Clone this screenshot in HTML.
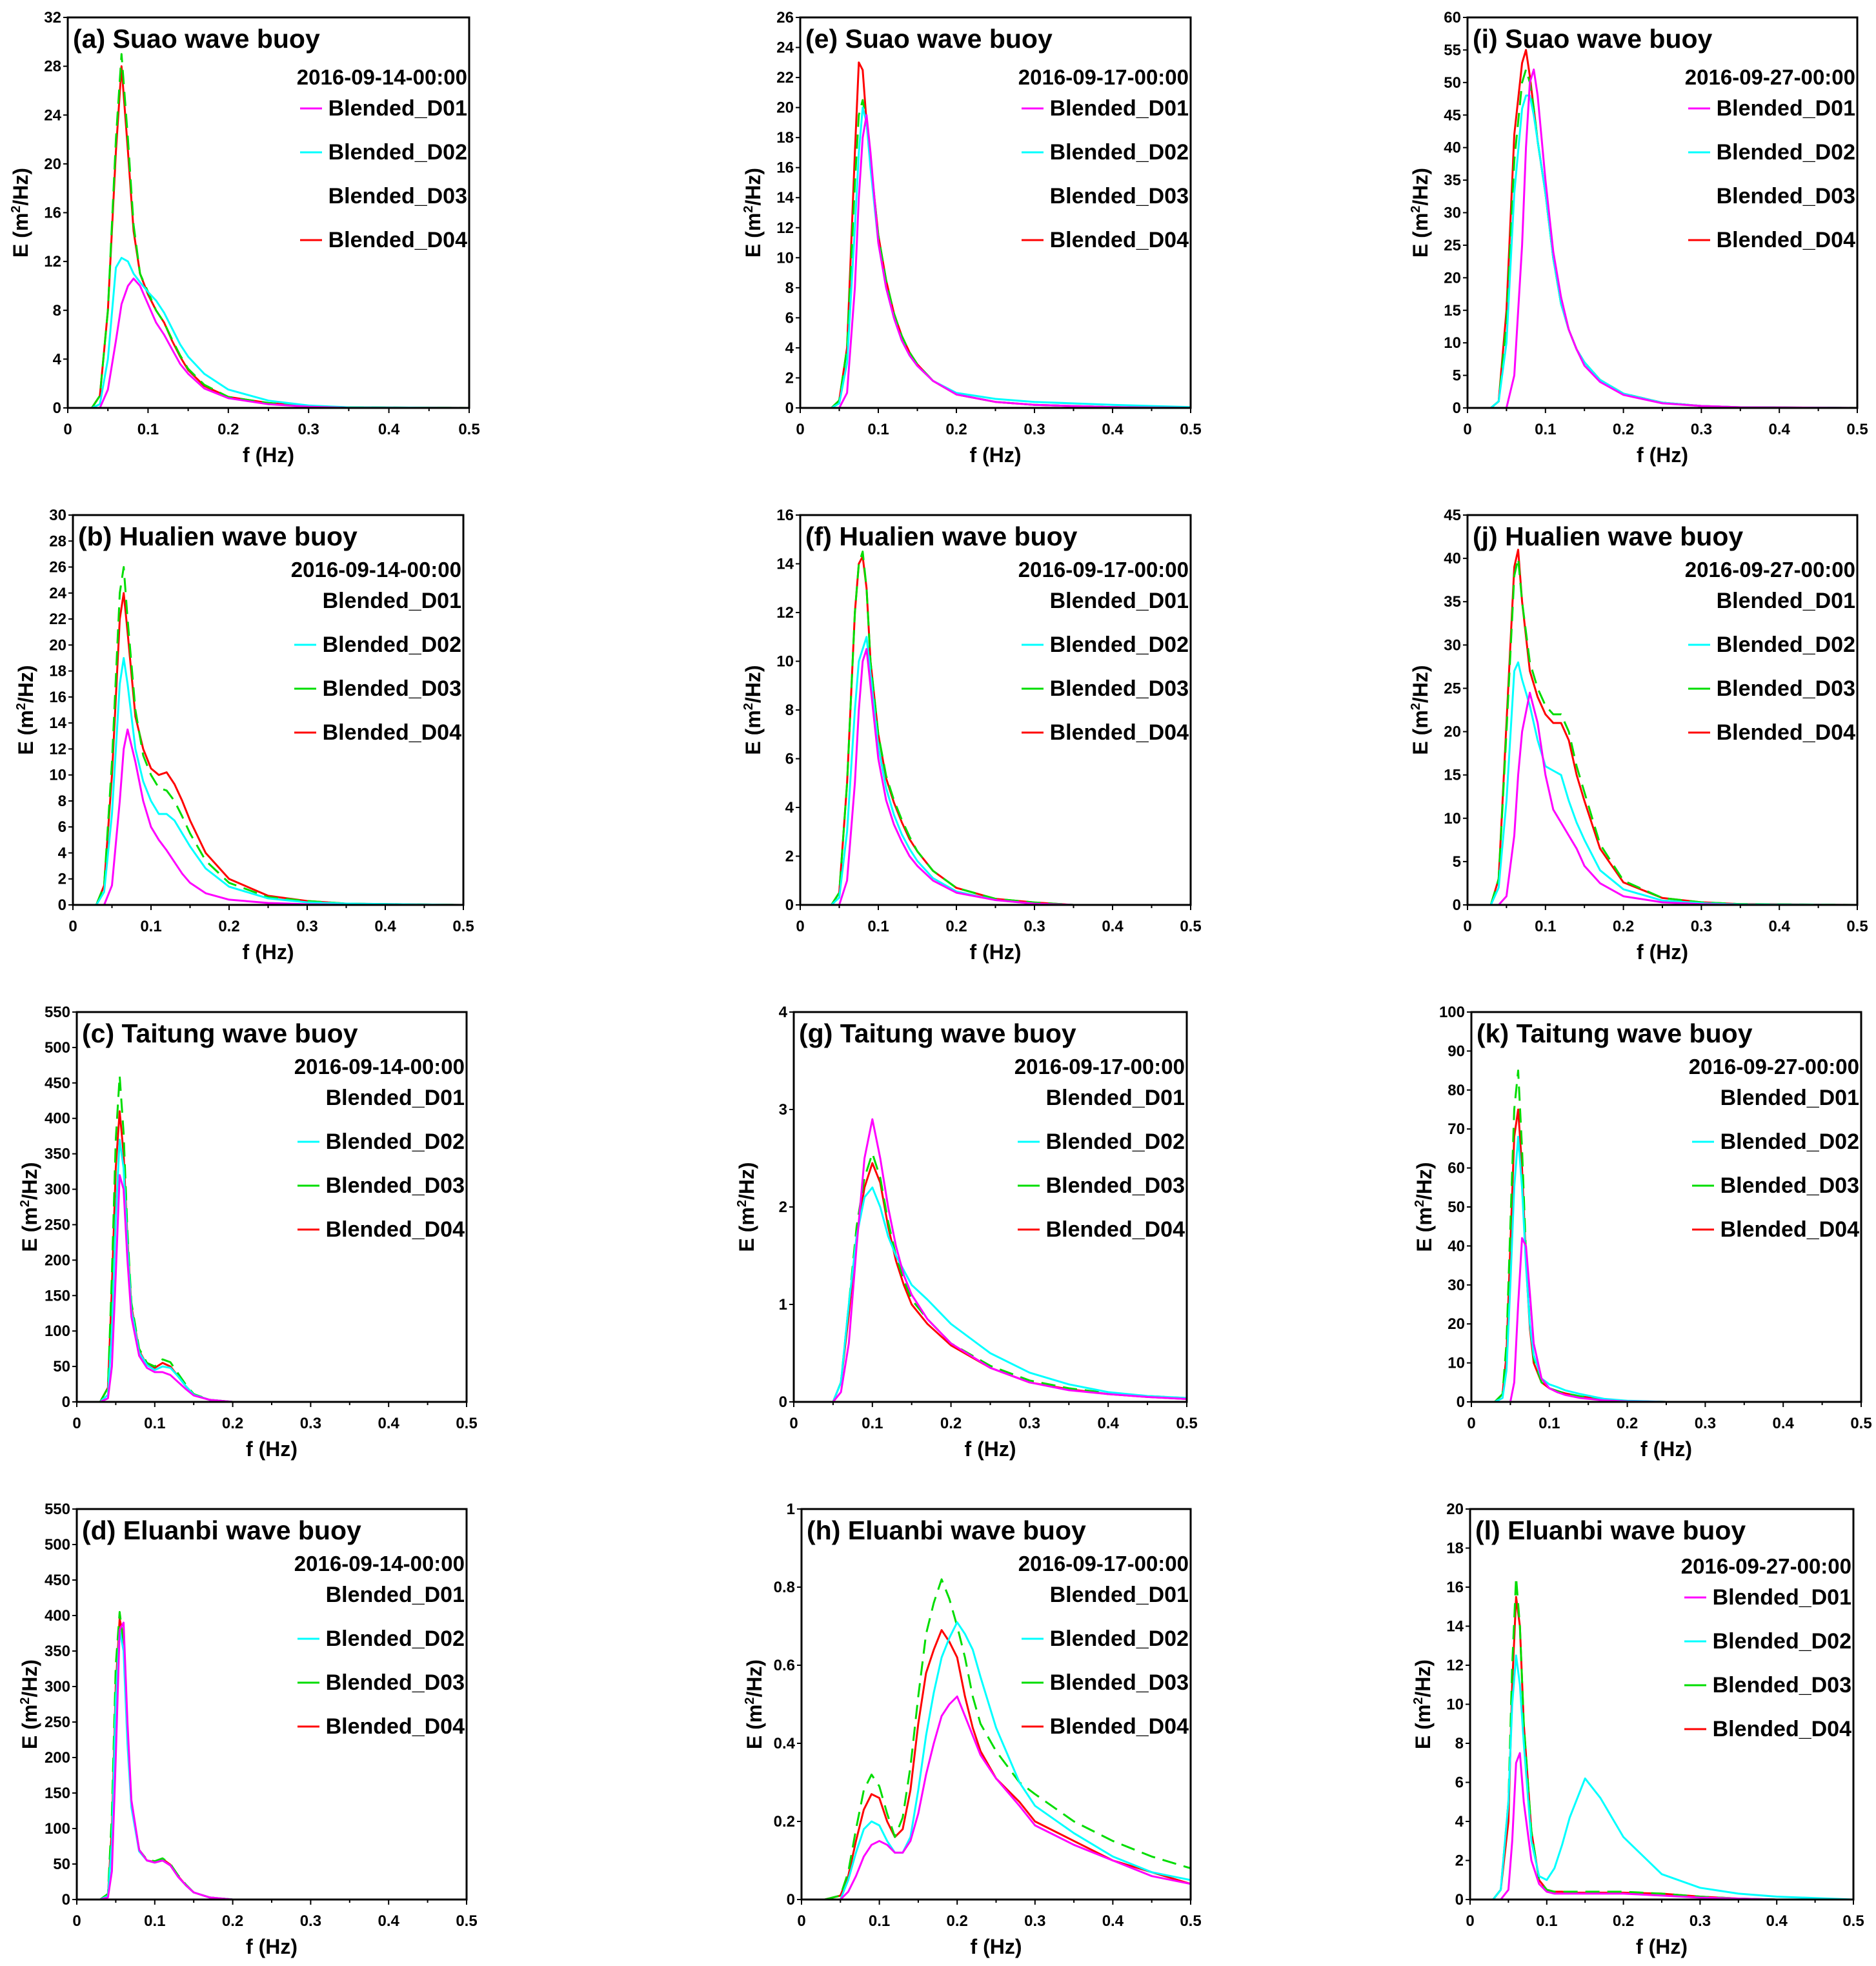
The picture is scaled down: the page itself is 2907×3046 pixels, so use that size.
<!DOCTYPE html>
<html><head><meta charset="utf-8">
<style>
html,body{margin:0;padding:0;background:#fff;}
svg{display:block;font-family:"Liberation Sans",Arial,sans-serif;font-weight:bold;}
</style></head>
<body>
<svg id="fig" width="2907" height="3046" viewBox="0 0 2907 3046" xmlns="http://www.w3.org/2000/svg"></svg>
<script>
// ---- data (per panel) ----
const panelIds = ['a','b','c','d','e','f','g','h','i','j','k','l'];
const titles = ['(a) Suao wave buoy','(b) Hualien wave buoy','(c) Taitung wave buoy','(d) Eluanbi wave buoy','(e) Suao wave buoy','(f) Hualien wave buoy','(g) Taitung wave buoy','(h) Eluanbi wave buoy','(i) Suao wave buoy','(j) Hualien wave buoy','(k) Taitung wave buoy','(l) Eluanbi wave buoy'];
const dates = ['2016-09-14-00:00','2016-09-14-00:00','2016-09-14-00:00','2016-09-14-00:00','2016-09-17-00:00','2016-09-17-00:00','2016-09-17-00:00','2016-09-17-00:00','2016-09-27-00:00','2016-09-27-00:00','2016-09-27-00:00','2016-09-27-00:00'];
const yMaxes = [32,30,550,550,26,16,4,1,60,45,100,20];
const yStepsTick = [4,2,50,50,2,2,1,0.2,5,5,10,2];
const seriesNames = ['Blended_D01','Blended_D02','Blended_D03','Blended_D04'];
const xTicks = [0,0.1,0.2,0.3,0.4,0.5];

const freqA = [0.03,0.04,0.05,0.06,0.067,0.075,0.082,0.09,0.1,0.11,0.12,0.13,0.14,0.15,0.17,0.2,0.25,0.3,0.35,0.5];
const a_D01 = [0,0,1.5,5.5,8.5,10,10.6,10,8.5,7,6,4.8,3.6,2.8,1.6,0.8,0.3,0.1,0,0];
const a_D02 = [0,0.3,4,11.5,12.3,12,11,10.3,9.5,8.8,7.8,6.5,5.2,4.2,2.8,1.5,0.6,0.2,0.05,0];
const a_D03 = [0,1,8,22,29,22,15,11,9.5,8,7,5.6,4.3,3.2,1.9,0.9,0.4,0.15,0.05,0];
const a_D04 = [0,1,8,21,28,21,14.5,11,9.3,8,7,5.5,4.2,3.1,1.8,0.9,0.4,0.15,0.05,0];

const freqB = [0.03,0.04,0.05,0.06,0.065,0.07,0.08,0.09,0.1,0.11,0.12,0.13,0.14,0.15,0.17,0.2,0.25,0.3,0.35,0.5];
const b_D01 = [0,0,1.5,8,12,13.5,11,8,6,5,4.2,3.3,2.4,1.7,0.9,0.4,0.15,0.05,0,0];
const b_D02 = [0,1,7,17,19,17,12,9.5,8,7,7,6.5,5.5,4.5,2.8,1.4,0.5,0.2,0.1,0];
const b_D03 = [0,1.5,11,24,26,22,15,11.5,10,9,8.8,8,6.8,5.5,3.4,1.7,0.6,0.3,0.1,0];
const b_D04 = [0,1.5,10,22,24,21,14.5,12,10.5,10,10.2,9.3,8,6.5,4,2,0.7,0.3,0.1,0];

const freqC = [0.03,0.04,0.045,0.05,0.055,0.06,0.065,0.07,0.08,0.09,0.1,0.11,0.12,0.13,0.14,0.15,0.17,0.2,0.25,0.5];
const c_D01 = [0,5,50,180,320,300,200,120,65,48,42,42,38,28,18,9,3,0,0,0];
const c_D02 = [0,10,100,260,370,330,220,130,70,52,45,50,48,36,22,10,3,0,0,0];
const c_D03 = [0,20,180,370,460,380,240,140,75,55,50,60,56,40,24,11,3,0,0,0];
const c_D04 = [0,20,160,330,410,350,230,135,72,52,48,55,50,36,22,10,3,0,0,0];

const freqD = [0.03,0.04,0.045,0.05,0.055,0.06,0.065,0.07,0.08,0.09,0.1,0.11,0.12,0.13,0.14,0.15,0.17,0.2,0.25,0.5];
const d_D01 = [0,3,40,200,380,390,250,140,70,55,52,55,48,32,20,10,3,0,0,0];
const d_D02 = [0,5,80,280,380,350,220,130,68,55,52,55,48,32,20,10,3,0,0,0];
const d_D03 = [0,8,120,330,405,360,230,135,70,56,54,58,50,34,21,10,3,0,0,0];
const d_D04 = [0,6,100,300,395,370,235,135,70,55,53,57,49,33,20,10,3,0,0,0];

const freqE = [0.04,0.05,0.06,0.07,0.075,0.08,0.085,0.09,0.1,0.11,0.12,0.13,0.14,0.15,0.17,0.2,0.25,0.3,0.4,0.5];
const e_D01 = [0,0,1,8,14,18,19.5,17,11,8,6,4.5,3.5,2.8,1.8,0.9,0.4,0.2,0.05,0];
const e_D02 = [0,0.3,3,12,17,20,19,16,11,8,6,4.5,3.5,2.8,1.8,1,0.6,0.4,0.2,0.05];
const e_D03 = [0,0.5,4,15,19.5,20.5,19,16.5,11.5,8.5,6.3,4.8,3.7,2.9,1.8,0.9,0.4,0.2,0.05,0];
const e_D04 = [0,0.5,4,17,23,22.5,19,16.5,11.5,8.5,6.3,4.8,3.7,2.9,1.8,0.9,0.4,0.2,0.05,0];

const freqF = [0.04,0.05,0.06,0.07,0.075,0.08,0.085,0.09,0.1,0.11,0.12,0.13,0.14,0.15,0.17,0.2,0.25,0.3,0.35,0.5];
const f_D01 = [0,0,1,5,8,10,10.5,9,6,4.3,3.3,2.6,2,1.6,1,0.5,0.2,0.05,0,0];
const f_D02 = [0,0.3,3,8,10,10.5,11,9.5,6.5,4.8,3.7,2.9,2.3,1.8,1.1,0.55,0.2,0.05,0,0];
const f_D03 = [0,0.5,5,12,14,14.5,13,10,7,5.3,4.3,3.5,2.8,2.2,1.4,0.7,0.25,0.1,0,0];
const f_D04 = [0,0.5,5,12,14,14.3,13,10,7,5.2,4.2,3.4,2.7,2.2,1.4,0.7,0.25,0.1,0,0];

const freqG = [0.04,0.05,0.06,0.07,0.08,0.09,0.1,0.11,0.12,0.13,0.14,0.15,0.17,0.2,0.25,0.3,0.35,0.4,0.45,0.5];
const g_D01 = [0,0,0.1,0.6,1.6,2.5,2.9,2.5,2,1.6,1.3,1.1,0.85,0.6,0.35,0.2,0.12,0.08,0.05,0.03];
const g_D02 = [0,0,0.2,1,1.7,2.1,2.2,2,1.7,1.5,1.35,1.2,1.05,0.8,0.5,0.3,0.18,0.1,0.06,0.04];
const g_D03 = [0,0,0.2,1,1.8,2.3,2.55,2.3,1.85,1.5,1.25,1.05,0.85,0.6,0.37,0.22,0.14,0.09,0.06,0.04];
const g_D04 = [0,0,0.2,0.9,1.7,2.2,2.45,2.25,1.8,1.45,1.2,1.0,0.8,0.58,0.35,0.2,0.13,0.08,0.05,0.03];

const freqH = [0.03,0.05,0.06,0.07,0.08,0.09,0.1,0.11,0.12,0.13,0.14,0.15,0.16,0.17,0.18,0.19,0.2,0.21,0.22,0.23,0.25,0.28,0.3,0.35,0.4,0.45,0.5];
const h_D01 = [0,0,0.02,0.06,0.11,0.14,0.15,0.14,0.12,0.12,0.15,0.22,0.32,0.4,0.47,0.5,0.52,0.47,0.42,0.37,0.31,0.24,0.19,0.14,0.1,0.06,0.04];
const h_D02 = [0,0,0.05,0.12,0.18,0.2,0.19,0.15,0.12,0.12,0.16,0.28,0.42,0.53,0.62,0.67,0.71,0.68,0.64,0.57,0.44,0.3,0.24,0.17,0.11,0.07,0.05];
const h_D03 = [0,0.01,0.07,0.18,0.28,0.32,0.29,0.22,0.16,0.21,0.34,0.52,0.68,0.76,0.82,0.77,0.7,0.62,0.52,0.45,0.38,0.3,0.27,0.2,0.15,0.11,0.08];
const h_D04 = [0,0.01,0.06,0.15,0.23,0.27,0.26,0.2,0.16,0.18,0.28,0.45,0.58,0.64,0.69,0.66,0.62,0.52,0.44,0.38,0.31,0.25,0.2,0.15,0.1,0.07,0.04];

const freqI = [0.03,0.04,0.05,0.06,0.07,0.075,0.08,0.085,0.09,0.1,0.11,0.12,0.13,0.14,0.15,0.17,0.2,0.25,0.3,0.35,0.5];
const i_D01 = [0,0,0,5,25,40,50,52,48,35,24,17,12,9,6.5,4,2,0.7,0.3,0.1,0];
const i_D02 = [0,1,10,33,46,48,48,45,41,33,23,16,12,9,7,4.3,2.2,0.8,0.3,0.1,0];
const i_D03 = [0,1,13,38,50,52,50,46,41,33,23,16,12,9,7,4.3,2.2,0.8,0.3,0.1,0];
const i_D04 = [0,1,15,42,53,55,51,46,41,33,23,16,12,9,7,4.3,2.2,0.8,0.3,0.1,0];

const freqJ = [0.03,0.04,0.05,0.06,0.065,0.07,0.08,0.09,0.1,0.11,0.12,0.13,0.14,0.15,0.17,0.2,0.25,0.3,0.35,0.5];
const j_D01 = [0,0,1,8,15,20,24.5,21,15,11,9.5,8,6.5,4.5,2.5,1,0.3,0.1,0,0];
const j_D02 = [0,2,12,27,28,26,23,19,16,15.5,15,12,9.5,7.5,4,1.8,0.5,0.2,0.05,0];
const j_D03 = [0,3,20,38,40,35,28,25,23,22,22,20,16,13,7,2.8,0.8,0.3,0.1,0];
const j_D04 = [0,3,21,39,41,35,27,24,22,21,21,19,15,12,6.5,2.6,0.8,0.3,0.1,0];

const freqK = [0.03,0.04,0.045,0.05,0.055,0.06,0.065,0.07,0.075,0.08,0.09,0.1,0.11,0.12,0.14,0.17,0.2,0.25,0.3,0.5];
const k_D01 = [0,0,0,0,5,25,42,40,28,15,6,3.5,2.5,1.8,1,0.4,0.1,0,0,0];
const k_D02 = [0,1,8,30,55,68,55,35,20,12,6,4.5,3.8,3,2,0.8,0.3,0,0,0];
const k_D03 = [0,2,15,45,75,85,65,38,20,11,5,3.5,2.8,2.2,1.4,0.6,0.2,0,0,0];
const k_D04 = [0,2,12,40,68,75,60,36,19,10,5,3.5,2.8,2.2,1.4,0.6,0.2,0,0,0];

const freqL = [0.03,0.04,0.05,0.055,0.06,0.065,0.07,0.08,0.09,0.1,0.11,0.12,0.13,0.15,0.17,0.2,0.25,0.3,0.35,0.4,0.5];
const l_D01 = [0,0,0.5,3,7,7.5,5,2,0.8,0.4,0.3,0.3,0.3,0.3,0.3,0.3,0.2,0.1,0.05,0,0];
const l_D02 = [0,0.5,5,10,12.5,11,8,3,1.2,1,1.6,2.8,4.2,6.2,5.2,3.2,1.3,0.6,0.3,0.15,0];
const l_D03 = [0,0.5,5,12,16.5,14,9,3.5,1,0.5,0.4,0.4,0.4,0.4,0.4,0.4,0.3,0.15,0.05,0,0];
const l_D04 = [0,0.5,4,11,15.5,14,9,3.5,1,0.5,0.4,0.4,0.35,0.35,0.35,0.35,0.3,0.15,0.05,0,0];

const panelData = {
  a:[freqA,[a_D01,a_D02,a_D03,a_D04]], b:[freqB,[b_D01,b_D02,b_D03,b_D04]],
  c:[freqC,[c_D01,c_D02,c_D03,c_D04]], d:[freqD,[d_D01,d_D02,d_D03,d_D04]],
  e:[freqE,[e_D01,e_D02,e_D03,e_D04]], f:[freqF,[f_D01,f_D02,f_D03,f_D04]],
  g:[freqG,[g_D01,g_D02,g_D03,g_D04]], h:[freqH,[h_D01,h_D02,h_D03,h_D04]],
  i:[freqI,[i_D01,i_D02,i_D03,i_D04]], j:[freqJ,[j_D01,j_D02,j_D03,j_D04]],
  k:[freqK,[k_D01,k_D02,k_D03,k_D04]], l:[freqL,[l_D01,l_D02,l_D03,l_D04]]
};
const legendSwatch = {
  a:[1,1,0,1], e:[1,1,0,1], i:[1,1,0,1],
  b:[0,1,1,1], f:[0,1,1,1], j:[0,1,1,1],
  c:[0,1,1,1], g:[0,1,1,1], k:[0,1,1,1],
  d:[0,1,1,1], h:[0,1,1,1], l:[1,1,1,1]
};

// ---- layout ----
const rects = {
  a:[105,27,727,632], b:[113,798,718,1402], c:[119,1568,723,2172], d:[119,2338,723,2943],
  e:[1240,27,1845,632], f:[1240,798,1845,1402], g:[1230,1568,1839,2172], h:[1242,2338,1845,2943],
  i:[2274,27,2878,632], j:[2274,798,2878,1402], k:[2280,1568,2884,2172], l:[2278,2338,2872,2943]
};
const legendShift = {a:0,e:0,i:0,b:-8,f:-8,j:-8,c:-8,g:-8,k:-8,d:-8,h:-8,l:-4};
const colors = ['#ff00ff','#00ffff','#00dd00','#ff0000'];
const drawOrder = [3,2,1,0];
const NS = 'http://www.w3.org/2000/svg';
const svg = document.getElementById('fig');
function mk(tag, attrs, parent){ const e=document.createElementNS(NS,tag); for(const k in attrs) e.setAttribute(k,attrs[k]); (parent||svg).appendChild(e); return e; }
function fmt(v){ return String(+v.toFixed(2)); }

panelIds.forEach((id, pi) => {
  const [x0,y0,x1,y1] = rects[id];
  const ymax = yMaxes[pi], ystep = yStepsTick[pi];
  const xs = f => x0 + (f/0.5)*(x1-x0);
  const ys = v => y1 - (v/ymax)*(y1-y0);
  const g = mk('g',{});
  
  

  const [freq, series] = panelData[id];
  drawOrder.forEach(si => {
    const pts = freq.map((f,k)=> xs(f).toFixed(1)+','+ys(series[si][k]).toFixed(1)).join(' ');
    const pl = mk('polyline',{points:pts, fill:'none', stroke:colors[si], 'stroke-width':3, 'stroke-linejoin':'round'}, g);
    if (si===2) pl.setAttribute('stroke-dasharray','22 12');
    
    
  });

  const fr = mk('rect',{x:x0,y:y0,width:x1-x0,height:y1-y0,fill:'none',stroke:'#000','stroke-width':3}, g);
  
  

  for (let t=0; t<=10; t++){
    const xv = xs(t*0.05);
    mk('line',{x1:xv,y1:y1,x2:xv,y2:y1+(t%2===0?8:5),stroke:'#000','stroke-width':2}, g);
  }
  xTicks.forEach(t=>{
    const tx = mk('text',{x:xs(t), y:y1+41, 'font-size':24, 'text-anchor':'middle'}, g);
    tx.textContent = fmt(t);
    
    
  });
  const nT = Math.round(ymax/ystep);
  for (let k=0; k<=nT; k++){
    const v = k*ystep, yv = ys(v);
    mk('line',{x1:x0-7,y1:yv,x2:x0,y2:yv,stroke:'#000','stroke-width':2}, g);
    const ty = mk('text',{x:x0-10, y:yv+8, 'font-size':24, 'text-anchor':'end'}, g);
    ty.textContent = fmt(v);
    
    
  }
  const xt = mk('text',{x:(x0+x1)/2, y:y1+84, 'font-size':32, 'text-anchor':'middle'}, g);
  xt.textContent = 'f (Hz)';
  
  
  const yt = mk('text',{x:0, y:0, 'font-size':32, 'text-anchor':'middle', transform:`translate(${x0-62},${(y0+y1)/2}) rotate(-90)`}, g);
  yt.innerHTML = 'E (m<tspan dy="-12" font-size="20">2</tspan><tspan dy="12">/Hz)</tspan>';
  
  

  const tt = mk('text',{x:x0+8, y:y0+47, 'font-size':41}, g);
  tt.textContent = titles[pi];
  
  
  const sh = legendShift[id];
  const dt = mk('text',{x:x1-3, y:y0+104+sh, 'font-size':33, 'text-anchor':'end'}, g);
  dt.textContent = dates[pi];
  
  
  const legY = [152, 220, 288, 356];
  seriesNames.forEach((nm, si) => {
    const ly = y0 + legY[si] + sh;
    if (legendSwatch[id][si]) {
      const sw = mk('line',{x1:x1-262,y1:ly-11,x2:x1-228,y2:ly-11,stroke:colors[si],'stroke-width':3}, g);
      
      
    }
    const lt = mk('text',{x:x1-3, y:ly, 'font-size':34, 'text-anchor':'end'}, g);
    lt.textContent = nm;
    
    
  });
});
</script>
</body></html>
